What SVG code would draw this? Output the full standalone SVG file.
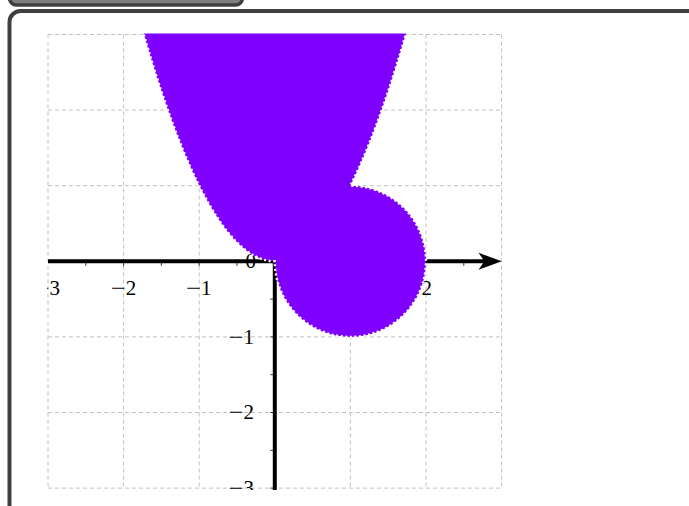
<svg xmlns="http://www.w3.org/2000/svg" width="689" height="506" viewBox="0 0 689 506">
<style>
.grid{stroke:#c0c0c0;stroke-width:1;stroke-dasharray:4 3;fill:none}
.axis{stroke:#000;stroke-width:4;fill:none}
.tick{stroke:#000;stroke-width:0.8}
.lbl{font-family:"Liberation Serif","DejaVu Serif",serif;font-size:21px;fill:#000}
</style>
<defs>
<clipPath id="plot"><rect x="47" y="33.5" width="458" height="456.5"/></clipPath>
</defs>
<g id="frame">
<rect x="9.5" y="-12" width="233" height="17" rx="7" fill="#7f7f7f" stroke="#404040" stroke-width="3.5"/>
<rect x="9.5" y="11" width="700" height="520" rx="11" fill="#fff" stroke="#404040" stroke-width="4"/>
</g>
<g clip-path="url(#plot)">
<g id="grid" class="grid">
<path d="M48 34.5V488.1M123.6 34.5V488.1M199.2 34.5V488.1M274.8 34.5V488.1M350.4 34.5V488.1M426 34.5V488.1M501.6 34.5V488.1"/>
<path d="M48 34.5H501.6M48 110.1H501.6M48 185.7H501.6M48 261.3H501.6M48 336.9H501.6M48 412.5H501.6M48 488.1H501.6"/>
</g>
<g id="axes">
<path class="axis" d="M48 261.3H490"/>
<path d="M501.8 261.3L478.5 252.8L484.5 261.3L478.5 269.8Z" fill="#000"/>
<path class="axis" d="M274.8 490V34"/>
<path class="tick" d="M85.8 261.3v4.5M123.6 261.3v4.5M161.4 261.3v4.5M199.2 261.3v4.5M237 261.3v4.5M312.6 261.3v4.5M350.4 261.3v4.5M388.2 261.3v4.5M426 261.3v4.5M463.8 261.3v4.5"/>
<path class="tick" d="M274.8 299.1h-4.5M274.8 336.9h-4.5M274.8 374.7h-4.5M274.8 412.5h-4.5M274.8 450.3h-4.5M274.8 488.1h-4.5"/>
</g>
<g id="labels" class="lbl">
<text x="34.5" y="295"><tspan textLength="15" lengthAdjust="spacingAndGlyphs">−</tspan>3</text>
<text x="110.8" y="295"><tspan textLength="15" lengthAdjust="spacingAndGlyphs">−</tspan>2</text>
<text x="186" y="295"><tspan textLength="15" lengthAdjust="spacingAndGlyphs">−</tspan>1</text>
<text x="350.4" y="295" text-anchor="middle">1</text>
<text x="426.7" y="295" text-anchor="middle">2</text>
<text x="245.5" y="268">0</text>
<text x="228.5" y="343.5"><tspan textLength="15" lengthAdjust="spacingAndGlyphs">−</tspan>1</text>
<text x="228.5" y="419"><tspan textLength="15" lengthAdjust="spacingAndGlyphs">−</tspan>2</text>
<text x="228.5" y="494.5"><tspan textLength="15" lengthAdjust="spacingAndGlyphs">−</tspan>3</text>
</g>
<g id="region">
<path d="M123.6 -41.1Q199.2 261.3 274.8 261.3A75.6 75.6 0 1 0 350.4 185.7Q388.2 110.1 426 -41.1Z" fill="#7f00ff" stroke="#fff" stroke-width="2.4" stroke-dasharray="2 2.6"/>
</g>
</g>
</svg>
